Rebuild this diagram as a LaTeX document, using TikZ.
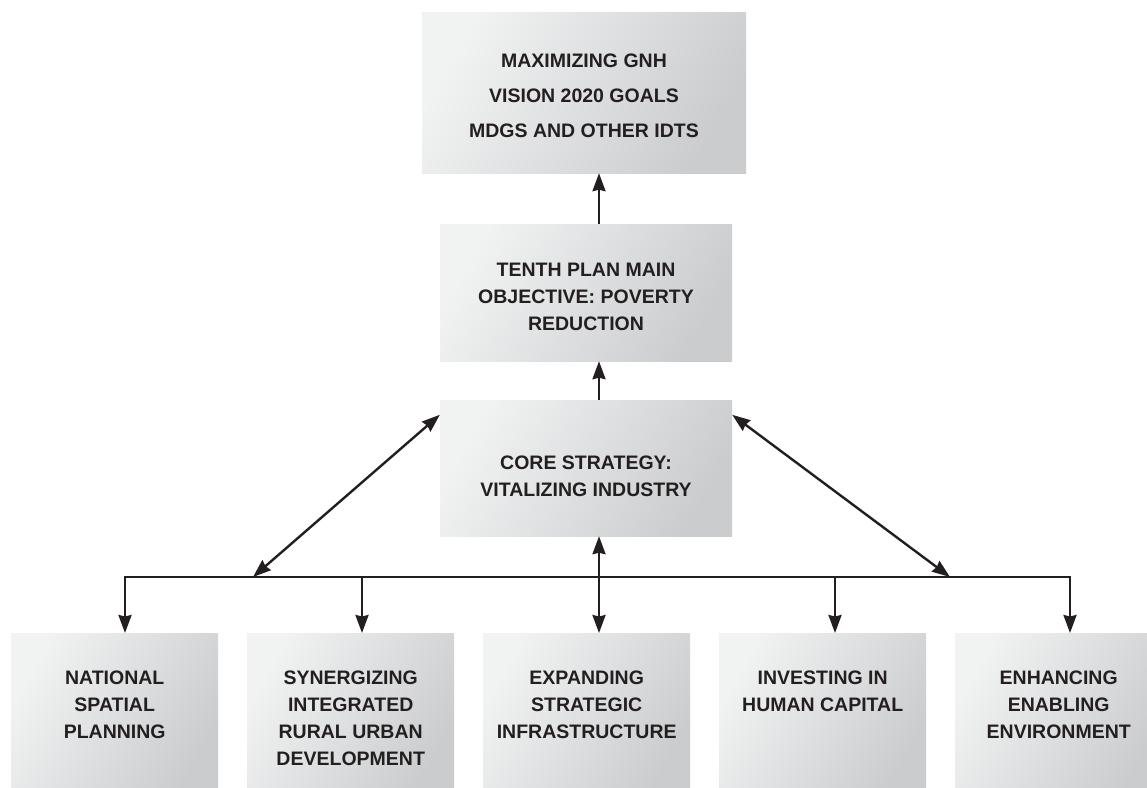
\documentclass[tikz,border=0pt]{standalone}
\usepackage{fontspec}
\setmainfont{Liberation Sans}
\usetikzlibrary{arrows.meta,calc}
\definecolor{ink}{HTML}{231F20}
\definecolor{boxlight}{HTML}{F1F2F2}
\definecolor{boxdark}{HTML}{CBCCCE}
\newcommand{\lowtext}[1]{\parbox[t][150pt][t]{207pt}{\centering\vspace*{33pt}#1\par}}
\newcommand{\midtext}[4]{\parbox[c][#2][c]{#1}{\centering\vspace*{#3}#4\par}}
\tikzset{
  boxnode/.style={rectangle, inner sep=0pt, draw=none, top color=boxlight, bottom color=boxdark,
    shading angle=60, text=ink, font=\bfseries\fontsize{19.5}{27}\selectfont, align=center},
  lowbox/.style={boxnode, anchor=north west, minimum width=207pt, minimum height=160pt},
  conn/.style={draw=ink, line width=2.4pt, line join=miter},
  >={Stealth[length=18pt,width=13pt,inset=1.5pt]}
}
\begin{document}
\begin{tikzpicture}[x=1pt,y=-1pt]
\clip (0,0) rectangle (1147,787);
\fill[white] (0,0) rectangle (1147,787);
\node[boxnode] (top) at (584,92.5)
  {\midtext{324pt}{161pt}{6pt}{MAXIMIZING GNH\\[8pt]VISION 2020 GOALS\\[8pt]MDGS AND OTHER IDTS}};
\node[boxnode] (plan) at (586,292.5)
  {\midtext{292pt}{137pt}{8pt}{TENTH PLAN MAIN\\OBJECTIVE: POVERTY\\REDUCTION}};
\node[boxnode] (core) at (586,468)
  {\midtext{292pt}{136pt}{16pt}{CORE STRATEGY:\\VITALIZING INDUSTRY}};
\node[lowbox] (b1) at (11,633) {\lowtext{NATIONAL\\SPATIAL\\PLANNING}};
\node[lowbox] (b2) at (247,633) {\lowtext{SYNERGIZING\\INTEGRATED\\RURAL URBAN\\DEVELOPMENT}};
\node[lowbox] (b3) at (483,633) {\lowtext{EXPANDING\\STRATEGIC\\INFRASTRUCTURE}};
\node[lowbox] (b4) at (719,633) {\lowtext{INVESTING IN\\HUMAN CAPITAL}};
\node[lowbox] (b5) at (955,633) {\lowtext{ENHANCING\\ENABLING\\ENVIRONMENT}};
\coordinate (ax) at (599,0);
\coordinate (d1) at (125,577);
\coordinate (d2) at (362,577);
\coordinate (d3) at (599,577);
\coordinate (d4) at (835,577);
\coordinate (d5) at (1070,577);
\coordinate (dl) at (253,577);
\coordinate (dr) at (950,577);
\coordinate (cl) at ($(core.north west)+(0,15)$);
\coordinate (cr) at ($(core.north east)+(0,15)$);
\draw[conn,->] (plan.north -| ax) -- (top.south -| ax);
\draw[conn,->] (core.north -| ax) -- (plan.south -| ax);
\draw[conn,<->] (core.south -| d3) -- (d3 |- b3.north);
\draw[conn,<->] (d1 |- b1.north) -- (d1) -- (d5) -- (d5 |- b5.north);
\draw[conn,->] (d2) -- (d2 |- b2.north);
\draw[conn,->] (d4) -- (d4 |- b4.north);
\draw[conn,<->] (dl) -- (cl);
\draw[conn,<->] (dr) -- (cr);
\end{tikzpicture}
\end{document}
